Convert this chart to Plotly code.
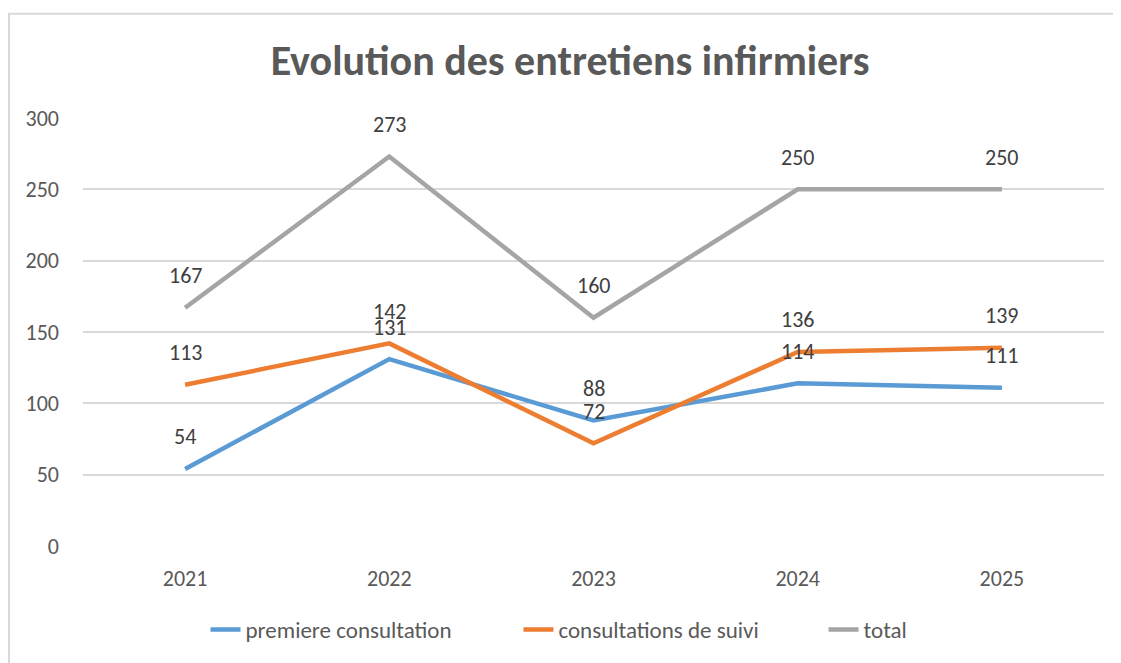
import plotly.graph_objects as go

years = ["2021", "2022", "2023", "2024", "2025"]
premiere = [54, 131, 88, 114, 111]
suivi = [113, 142, 72, 136, 139]
total = [167, 273, 160, 250, 250]
series_names = ["premiere consultation", "consultations de suivi", "total"]
colors = ["#5B9BD5", "#ED7D31", "#A5A5A5"]
y_ticks = [0, 50, 100, 150, 200, 250, 300]

FONT = "Carlito, Calibri, Lato, 'Open Sans', sans-serif"
legend_ids = ["legend", "legend2", "legend3"]
legend_x = [0.12, 0.4265, 0.7253]

fig = go.Figure()
annotations = []
for name, vals, col, lid in zip(series_names, [premiere, suivi, total], colors, legend_ids):
    fig.add_trace(go.Scatter(
        x=years, y=vals, mode="lines", name=name,
        line=dict(color=col, width=4.5),
        hoverinfo="x+y+name", legend=lid,
    ))
    for i, yv in enumerate(vals):
        annotations.append(dict(
            x=i, y=yv, xref="x", yref="y", text=str(yv), showarrow=False,
            yshift=32, font=dict(family=FONT, size=22, color="#404040"),
        ))

legend_common = dict(orientation="h", xanchor="left", y=-0.195, yanchor="middle",
                     font=dict(family=FONT, size=23, color="#595959"),
                     bgcolor="rgba(0,0,0,0)")

fig.update_layout(
    width=1113, height=655,
    paper_bgcolor="white", plot_bgcolor="white",
    margin=dict(l=75, r=17, t=110, b=114),
    title=dict(text="<b>Evolution des entretiens infirmiers</b>", x=0.505, xanchor="center",
               y=0.9206, yanchor="middle",
               font=dict(family=FONT, size=42, color="#595959")),
    font=dict(family=FONT, color="#595959", size=22),
    xaxis=dict(type="category", range=[-0.5, 4.5], showgrid=False, zeroline=False,
               showline=False, ticks="", tickfont=dict(size=22, color="#595959"),
               ticklabelstandoff=17),
    yaxis=dict(range=[0, 300], tickvals=y_ticks, showgrid=True, gridcolor="#D9D9D9",
               gridwidth=1.5, zeroline=False, showline=False, ticks="",
               tickfont=dict(size=22, color="#595959"), ticklabelstandoff=23),
    legend=dict(x=legend_x[0], **legend_common),
    legend2=dict(x=legend_x[1], **legend_common),
    legend3=dict(x=legend_x[2], **legend_common),
    annotations=annotations,
    shapes=[dict(type="rect", xref="paper", yref="paper",
                 x0=-0.0725, x1=1.1, y0=-0.5, y1=1.2436,
                 line=dict(color="#D9D9D9", width=2))],
    showlegend=True,
)

fig.write_html("out.html")
